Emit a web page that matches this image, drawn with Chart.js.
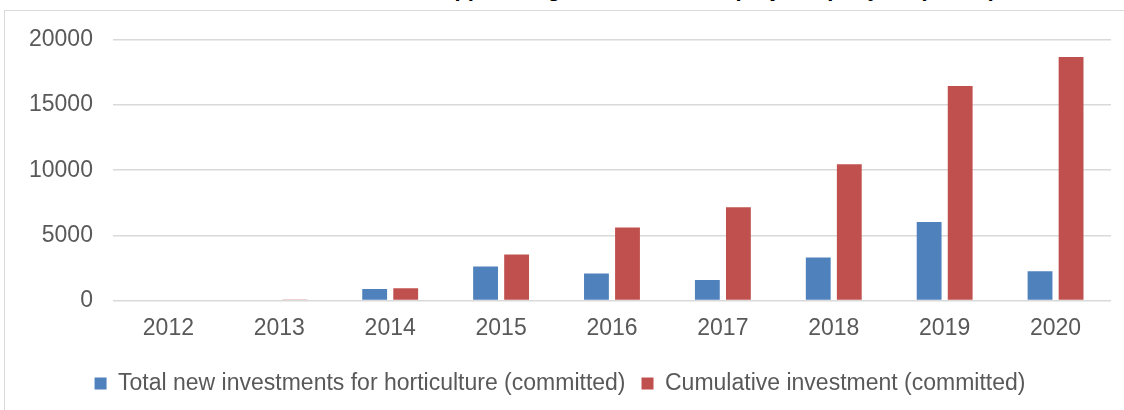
<!DOCTYPE html>
<html>
<head>
<meta charset="utf-8">
<script src="https://cdn.jsdelivr.net/npm/chart.js@4"></script>
<style>
  html, body { margin: 0; padding: 0; background: #fff; overflow: hidden; }
  body { width: 1124px; height: 410px; position: relative; }
  #frame {
    position: absolute; left: 4px; top: 10px; width: 1200px; height: 500px;
    border: 1px solid #d9d9d9; box-sizing: border-box;
  }
  #title {
    position: absolute; right: 128px; top: -24px; line-height: 22px;
    font: bold 22px "Liberation Sans", Arial, sans-serif; color: #000;
    white-space: nowrap; text-align: right;
  }
  #wrap { position: absolute; left: 0; top: 0; width: 1124px; height: 405px; }
</style>
</head>
<body>
<div id="frame"></div>
<div id="title">Approved green investment projects per year (US$m)</div>
<div id="wrap"><canvas id="investCanvas"></canvas></div>
<script>
const years = ["2012", "2013", "2014", "2015", "2016", "2017", "2018", "2019", "2020"];
const newInvestments = [0, 0, 880, 2600, 2060, 1560, 3300, 6020, 2230];
const cumulativeInvestment = [0, 40, 930, 3530, 5590, 7150, 10450, 16470, 18700];
const yTicks = [0, 5000, 10000, 15000, 20000];

const FONT = "'Liberation Sans', Arial, sans-serif";

const ctx = document.getElementById("investCanvas").getContext("2d");
new Chart(ctx, {
  type: "bar",
  data: {
    labels: years,
    datasets: [
      {
        label: "Total new investments for horticulture (committed)",
        data: newInvestments,
        backgroundColor: "#4f81bd",
        borderWidth: 0,
        categoryPercentage: 0.56,
        barPercentage: 0.8,
      },
      {
        label: "Cumulative investment (committed)",
        data: cumulativeInvestment,
        backgroundColor: "#c0504d",
        borderWidth: 0,
        categoryPercentage: 0.56,
        barPercentage: 0.8,
      },
    ],
  },
  options: {
    responsive: true,
    maintainAspectRatio: false,
    animation: false,
    layout: { padding: { left: 9, right: 13, top: 40, bottom: 0 } },
    plugins: {
      title: { display: false },
      tooltip: { enabled: false },
      legend: {
        position: "bottom",
        labels: {
          boxWidth: 12,
          boxHeight: 12,
          padding: 16,
          color: "#595959",
          font: { family: FONT, size: 23 },
        },
      },
    },
    scales: {
      x: {
        grid: { display: false, drawTicks: false },
        border: { display: false },
        ticks: { color: "#595959", padding: 14, font: { family: FONT, size: 23 } },
      },
      y: {
        min: 0,
        max: 20000,
        afterBuildTicks: (axis) => {
          axis.ticks = yTicks.map((v) => ({ value: v }));
        },
        grid: { color: "#d9d9d9", lineWidth: 1.5, drawTicks: false },
        border: { display: false },
        ticks: {
          color: "#595959",
          padding: 20,
          font: { family: FONT, size: 23 },
          callback: (value) => String(value),
        },
      },
    },
  },
});
</script>
</body>
</html>
